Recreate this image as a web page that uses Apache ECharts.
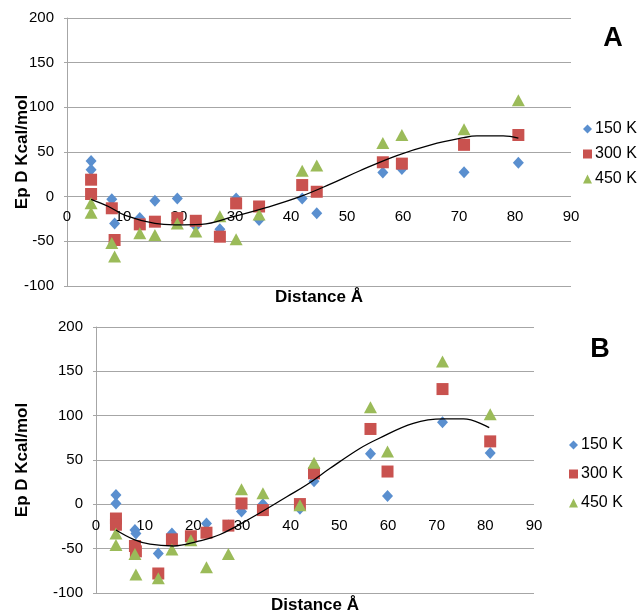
<!DOCTYPE html>
<html>
<head>
<meta charset="utf-8">
<script src="https://cdn.jsdelivr.net/npm/echarts@6/dist/echarts.min.js"></script>
<style>
html,body{margin:0;padding:0;background:#fff;}
#chart{width:640px;height:614px;}
</style>
</head>
<body>
<div id="chart"></div>
<script>
// ---- Data ----
var seriesNames = ['150 K', '300 K', '450 K'];
var xTicks = [0, 10, 20, 30, 40, 50, 60, 70, 80, 90];
var yTicks = [-100, -50, 0, 50, 100, 150, 200];

// Panel A
var a150 = [[4.3,40],[4.3,30],[8.0,-3],[8.5,-30],[13,-24],[15.7,-4.5],[19.7,-2],[23,-33],[27.3,-36.6],[30.2,-2],[34.3,-26],[42,-2],[44.6,-18.6],[56.4,27],[59.8,31],[70.9,27.3],[80.6,38]];
var a300 = [[4.3,19],[4.3,3],[8.0,-13],[8.5,-48.5],[13,-31],[15.7,-28],[19.7,-24],[23,-27],[27.3,-44.8],[30.2,-7.5],[34.3,-11],[42,13],[44.6,5.5],[56.4,38.5],[59.8,37],[70.9,58],[80.6,69]];
var a450 = [[4.3,-7.5],[4.3,-18],[8.0,-52],[8.5,-67],[13,-41],[15.7,-43],[19.7,-30],[23,-39],[27.3,-22],[30.2,-47.8],[34.3,-20],[42,29],[44.6,35],[56.4,60],[59.8,69],[70.9,75.5],[80.6,108]];
var trendA = [[4.3,-3],[7.4,-11],[10.4,-21],[15.7,-30],[19.3,-31.5],[24,-31],[29.7,-22.4],[35.7,-12],[41.6,0],[47,14],[52.3,29],[58.9,46],[65,58],[70.8,66],[73.2,68],[77.9,68],[80.6,65.5]];

// Panel B
var b150 = [[4.1,10.5],[4.1,1],[8.0,-29],[8.2,-33],[12.8,-55.5],[15.6,-33],[19.5,-37],[22.7,-21.5],[27.2,-24],[29.9,-8],[34.3,0],[41.9,-5],[44.8,26],[56.4,57],[59.9,9.5],[71.2,92.5],[81,58]];
var b300 = [[4.1,-16],[4.1,-23],[8.0,-47],[8.2,-53],[12.8,-78],[15.6,-39.5],[19.5,-36],[22.7,-32],[27.2,-24],[29.9,1],[34.3,-6.5],[41.9,0.3],[44.8,35],[56.4,85],[59.9,37],[71.2,130],[81,71]];
var b450 = [[4.1,-33],[4.1,-46],[8.0,-56],[8.2,-79],[12.8,-83.5],[15.6,-51],[19.5,-40.5],[22.7,-71],[27.2,-56],[29.9,17],[34.3,12.4],[41.9,-1],[44.8,47],[56.4,109.5],[59.9,59.5],[71.2,161],[81,101.6]];
var trendB = [[4.1,-29],[7.7,-39.5],[11.1,-45],[15.9,-47],[20.7,-42],[25.5,-34],[32.3,-14],[39.2,8.6],[43.3,22],[48.1,40.6],[54.2,63],[58,74],[65.2,91.4],[71.4,96.3],[75.5,96.3],[80.8,86.5]];

// ---- Chart ----
var FONT = "'Liberation Sans', Arial, sans-serif";
var GRIDC = '#A6A6A6';
var colors = ['#5A8FCF', '#C9524F', '#9BBB59'];
var symbols = ['diamond', 'rect', 'triangle'];
var symSizes = [[11, 12], [12, 12], [13, 12]];

// x-axis labels sit on the y = 0 line (axis crosses at zero)
function xAx(gi, zeroOffset) {
  return {
    type: 'value', gridIndex: gi, min: xTicks[0], max: xTicks[xTicks.length - 1], interval: 10,
    axisLine: { show: false },
    axisTick: { show: false },
    splitLine: { show: false },
    axisLabel: { fontFamily: FONT, fontSize: 15, color: '#000', margin: zeroOffset }
  };
}
function yAx(gi) {
  return {
    type: 'value', gridIndex: gi, min: yTicks[0], max: yTicks[yTicks.length - 1], interval: 50,
    axisLine: { show: true, onZero: false, lineStyle: { color: GRIDC, width: 1 } },
    axisTick: { show: true, length: 3, lineStyle: { color: GRIDC } },
    splitLine: { show: true, lineStyle: { color: GRIDC, width: 1 } },
    axisLabel: { fontFamily: FONT, fontSize: 15, color: '#000', margin: 13 }
  };
}
function scat(name, data, i, gi) {
  return {
    type: 'scatter', name: name, data: data, xAxisIndex: gi, yAxisIndex: gi,
    symbol: symbols[i], symbolSize: symSizes[i],
    itemStyle: { color: colors[i], opacity: 1 },
    z: 2 + i
  };
}
function trend(data, gi) {
  return {
    type: 'line', name: 'trend', data: data, xAxisIndex: gi, yAxisIndex: gi,
    smooth: 0.4, showSymbol: false, symbol: 'none',
    lineStyle: { color: '#000', width: 1.3 }, z: 6, silent: true
  };
}
function legend(left, top, gap) {
  return {
    orient: 'vertical', left: left, top: top, itemGap: gap, itemWidth: 9, itemHeight: 9,
    textStyle: { fontFamily: FONT, fontSize: 16, color: '#000', padding: [0, 0, 0, -2] },
    data: [
      { name: seriesNames[0], icon: 'diamond' },
      { name: seriesNames[1], icon: 'rect' },
      { name: seriesNames[2], icon: 'triangle' }
    ],
    selectedMode: false
  };
}
function txt(x, y, s, size, rot) {
  return {
    type: 'text', x: x, y: y, rotation: rot || 0,
    style: { text: s, font: 'bold ' + size + 'px ' + FONT, fill: '#000', textAlign: 'center', textVerticalAlign: 'middle' }
  };
}

var chart = echarts.init(document.getElementById('chart'), null, { renderer: 'canvas' });
chart.setOption({
  backgroundColor: '#fff',
  animation: false,
  grid: [
    { left: 67, top: 18, width: 504, height: 268 },
    { left: 96, top: 327, width: 438, height: 266 }
  ],
  xAxis: [xAx(0, -77), xAx(1, -75)],
  yAxis: [yAx(0), yAx(1)],
  legend: [legend(578, 116, 9), legend(564, 432, 13)],
  series: [
    scat(seriesNames[0], a150, 0, 0), scat(seriesNames[1], a300, 1, 0), scat(seriesNames[2], a450, 2, 0), trend(trendA, 0),
    scat(seriesNames[0], b150, 0, 1), scat(seriesNames[1], b300, 1, 1), scat(seriesNames[2], b450, 2, 1), trend(trendB, 1)
  ],
  graphic: [
    txt(22, 152, 'Ep D Kcal/mol', 17, Math.PI / 2),
    txt(22, 460, 'Ep D Kcal/mol', 17, Math.PI / 2),
    txt(319, 297, 'Distance Å', 17),
    txt(315, 605, 'Distance Å', 17),
    txt(613, 39, 'A', 27),
    txt(600, 350, 'B', 27)
  ]
});
</script>
</body>
</html>
